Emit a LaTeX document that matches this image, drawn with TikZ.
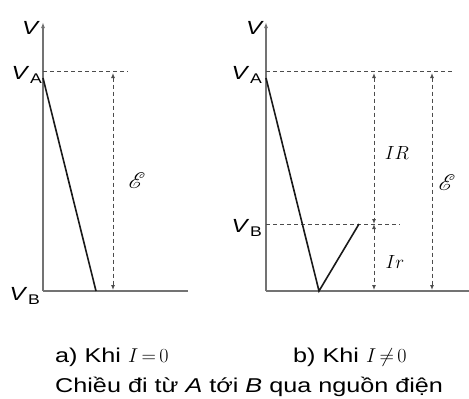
\documentclass[tikz,border=0pt]{standalone}
\usepackage{fix-cm}
\usepackage{amsmath,amssymb}
\usepackage{mathrsfs}
\usepackage{fontspec}
\setmainfont{Liberation Sans}[FakeStretch=1.26]
\usetikzlibrary{arrows.meta}

\tikzset{
  axis/.style={line width=2.2pt,black!55},
  graph/.style={line width=1.6pt,black!90},
  guide/.style={line width=1pt,black!70,dash pattern=on 4pt off 3pt},
  span/.style={guide,{Latex[length=5pt,width=4pt]}-{Latex[length=5pt,width=4pt]}},
  lab/.style={inner sep=0pt,font=\fontsize{19}{19}\selectfont},
  captext/.style={inner sep=0pt,anchor=base west,font=\fontsize{20}{20}\selectfont}
}
\newcommand{\Vsub}[1]{\textit{V}\kern0.5pt\raisebox{-3.5pt}{\fontsize{14}{14}\selectfont #1}}
\newcommand{\emf}{\scalebox{1.3}{$\mathscr{E}$}}

\begin{document}
\begin{tikzpicture}[x=1pt,y=-1pt]
\useasboundingbox (0,0) rectangle (469,399);

% a) khi I = 0
\coordinate (oa) at (43,291);
\coordinate (ta) at (43,22);
\coordinate (xa) at (188,291);
\coordinate (pa) at (43,71);
\coordinate (qa) at (128,71);
\coordinate (sa) at (43,78);
\coordinate (ua) at (96,291);
\coordinate (ea1) at (113,73);
\coordinate (ea2) at (113,290);
\draw[axis] (xa) -- (oa);
\draw[axis,-{Latex[length=6pt,width=4pt]}] (oa) -- (ta);
\draw[guide] (pa) -- (qa);
\draw[graph] (sa) -- (ua);
\draw[span] (ea1) -- (ea2);
\node[lab] (va) at (31,28) {\textit{V}};
\node[lab,anchor=east] (vaa) at (42,75) {\Vsub{A}};
\node[lab,anchor=east] (vba) at (40,296) {\Vsub{B}};
\node[lab] (ema) at (137,181) {\emf};

% b) khi I khac 0
\coordinate (ob) at (266,291);
\coordinate (tb) at (266,22);
\coordinate (xb) at (469,291);
\coordinate (pb) at (266,71);
\coordinate (qb) at (453,71);
\coordinate (rb) at (266,224);
\coordinate (wb) at (400,224);
\coordinate (sb) at (266,78);
\coordinate (ub) at (319,291);
\coordinate (kb) at (359,224);
\coordinate (ir1) at (374,73);
\coordinate (ir2) at (374,224);
\coordinate (ir3) at (374,290);
\coordinate (eb1) at (432,73);
\coordinate (eb2) at (432,290);
\draw[axis] (xb) -- (ob);
\draw[axis,-{Latex[length=6pt,width=4pt]}] (ob) -- (tb);
\draw[guide] (pb) -- (qb);
\draw[guide] (rb) -- (wb);
\draw[graph] (sb) -- (ub) -- (kb);
\draw[span] (ir1) -- (ir2);
\draw[span] (ir2) -- (ir3);
\draw[span] (eb1) -- (eb2);
\node[lab] (vb) at (255,28) {\textit{V}};
\node[lab,anchor=east] (vab) at (262,75) {\Vsub{A}};
\node[lab,anchor=east] (vbb) at (262,228) {\Vsub{B}};
\node[lab] (irb) at (397,153) {$IR$};
\node[lab] (irr) at (395,262) {$Ir$};
\node[lab] (emb) at (447,183) {\emf};

% chu thich
\node[captext] (capa) at (55,362) {a) Khi $I\mskip-2mu=\mskip-2mu0$};
\node[captext] (capb) at (293,362) {b) Khi $I\mskip-2mu\neq\mskip-2mu0$};
\node[captext] (capc) at (55,392) {Chiều đi từ \textit{A} tới \textit{B} qua nguồn điện};
\end{tikzpicture}
\end{document}
